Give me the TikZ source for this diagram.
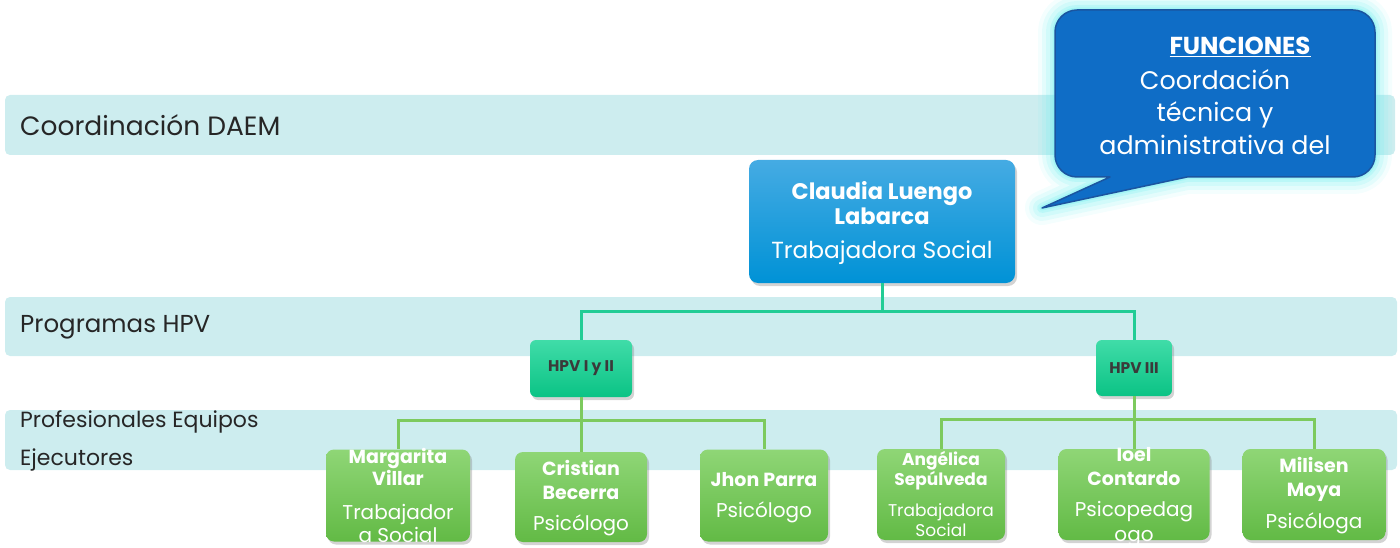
\documentclass[tikz,border=0pt]{standalone}
\usepackage{fontspec}
\setmainfont{Poppins}
\usetikzlibrary{positioning, shadows}

\definecolor{bandcyan}{HTML}{CDEDEF}
\definecolor{bossTop}{HTML}{45ABE3}
\definecolor{bossBot}{HTML}{0092D6}
\definecolor{hpvTop}{HTML}{40DCA8}
\definecolor{hpvBot}{HTML}{0BC385}
\definecolor{grnTop}{HTML}{8FD676}
\definecolor{grnBot}{HTML}{62BA45}
\definecolor{lineTeal}{HTML}{22CC95}
\definecolor{lineGreen}{HTML}{7DCA5E}
\definecolor{bubbleBlue}{HTML}{0F6DC6}
\definecolor{bubbleEdge}{HTML}{1B55A0}
\definecolor{glowCyan}{HTML}{6FEFEF}
\definecolor{hpvText}{HTML}{3A3A3A}

\tikzset{
  band/.style={fill=bandcyan, rounded corners=5pt},
  bandlabel/.style={anchor=west, inner sep=0pt, text=black!85},
  shadowed/.style={drop shadow={opacity=0.35, shadow xshift=2pt, shadow yshift=-3pt}},
  bossbox/.style={rounded corners=9pt, top color=bossTop, bottom color=bossBot, shadowed},
  hpvbox/.style={rounded corners=6pt, top color=hpvTop, bottom color=hpvBot, shadowed,
    text=hpvText, font=\bfseries\fontsize{15.5}{18}\selectfont},
  persbox/.style={rounded corners=8pt, top color=grnTop, bottom color=grnBot, shadowed,
    minimum height=92pt},
  nametext/.style={align=center, inner sep=0pt, text=white, font=\bfseries\fontsize{19}{24}\selectfont},
  roletext/.style={align=center, inner sep=0pt, text=white, font=\fontsize{20}{24}\selectfont},
  topline/.style={lineTeal, line width=3pt},
  subline/.style={lineGreen, line width=3pt},
}

\def\bubblepath{(1187,177) [rounded corners=22pt] -- (1375,177) -- (1375,10) -- (1055,10)
  -- (1055,177) [sharp corners] -- (1110,177) -- (1042,208) -- cycle}

\begin{document}
\begin{tikzpicture}[x=1pt, y=-1pt]
  \useasboundingbox (0,0) rectangle (1400,548);

  % Levels
  \fill[band] (5,95) rectangle (1395,155);
  \fill[band] (5,297) rectangle (1397,356);
  \fill[band] (5,410) rectangle (1397,470);
  \node[bandlabel, font=\fontsize{26.5}{30}\selectfont] (lvl1) at (20,125) {Coordinación DAEM};
  \node[bandlabel, font=\fontsize{24.5}{28}\selectfont] (lvl2) at (20,327) {Programas HPV};
  \node[bandlabel, align=left, font=\fontsize{22}{38}\selectfont] (lvl3) at (20,441)
    {Profesionales Equipos\\Ejecutores};

  % Boxes
  \node[bossbox, minimum width=266pt, minimum height=123pt] (boss) at (882,221.5) {};
  \node[hpvbox, minimum width=102pt, minimum height=57pt] (hpvA) at (581,368.5) {HPV I y II};
  \node[hpvbox, minimum width=76pt, minimum height=56pt] (hpvB) at (1134,368) {HPV III};

  \node[persbox, minimum width=144pt] (mv) at (398,495.5) {};
  \node[persbox, minimum width=132pt, minimum height=90pt] (cb) at (581,497) {};
  \node[persbox, minimum width=128pt] (jp) at (764,495.5) {};
  \node[persbox, minimum width=128pt, minimum height=91pt] (as) at (941,494.5) {};
  \node[persbox, minimum width=151pt, minimum height=91pt] (ic) at (1134,494.5) {};
  \node[persbox, minimum width=143pt, minimum height=91pt] (mm) at (1314,494.5) {};

  % Connectors
  \draw[topline] (boss.south) -- ++(0,28) -| (hpvA.north);
  \draw[topline] (boss.south) -- ++(0,28) -| (hpvB.north);
  \draw[subline] (hpvA.south) -- ++(0,23) -| (mv.north);
  \draw[subline] (hpvA.south) -- (cb.north);
  \draw[subline] (hpvA.south) -- ++(0,23) -| (jp.north);
  \draw[subline] (hpvB.south) -- ++(0,23) -| (as.north);
  \draw[subline] (hpvB.south) -- (ic.north);
  \draw[subline] (hpvB.south) -- ++(0,23) -| (mm.north);

  % Texts
  \node[nametext, font=\bfseries\fontsize{22.5}{25}\selectfont] (boss-n) at (882,203) {Claudia Luengo\\Labarca};
  \node[roletext, font=\fontsize{23.3}{26}\selectfont] (boss-r) at (882,253) {Trabajadora Social};

  \node[nametext, font=\bfseries\fontsize{19}{22}\selectfont] (mv-n) at (398,467) {Margarita\\Villar};
  \node[roletext, font=\fontsize{20}{23}\selectfont] (mv-r) at (398,523.5) {Trabajador\\a Social};
  \node[nametext] (cb-n) at (581,480) {Cristian\\Becerra};
  \node[roletext] (cb-r) at (581,525) {Psicólogo};
  \node[nametext] (jp-n) at (764,480) {Jhon Parra};
  \node[roletext] (jp-r) at (764,512) {Psicólogo};
  \node[nametext, font=\bfseries\fontsize{17}{20}\selectfont] (as-n) at (941,471) {Angélica\\Sepúlveda};
  \node[roletext, font=\fontsize{17}{20}\selectfont] (as-r) at (941,520) {Trabajadora\\Social};
  \node[nametext] (ic-n) at (1134,467) {Ioel\\Contardo};
  \node[roletext, font=\fontsize{20}{25}\selectfont] (ic-r) at (1134,524.5) {Psicopedag\\ogo};
  \node[nametext] (mm-n) at (1314,479) {Milisen\\Moya};
  \node[roletext] (mm-r) at (1314,523) {Psicóloga};

  % Callout
  \foreach \w/\o in {34/0.08, 26/0.12, 18/0.16, 10/0.22, 5/0.3}
    \draw[glowCyan, line width=\w pt, opacity=\o, line join=round] \bubblepath;
  \draw[fill=bubbleBlue, draw=bubbleEdge, line width=1.5pt, line join=round] \bubblepath;
  \node[text=white, inner sep=0pt, font=\bfseries\fontsize{24.5}{28}\selectfont] (fn-t) at (1240,47)
    {\underline{FUNCIONES}};
  \node[text=white, align=center, inner sep=0pt, font=\fontsize{25.4}{32.5}\selectfont] (fn-b) at (1215,112)
    {Coordación\\técnica y\\administrativa del};
\end{tikzpicture}
\end{document}
